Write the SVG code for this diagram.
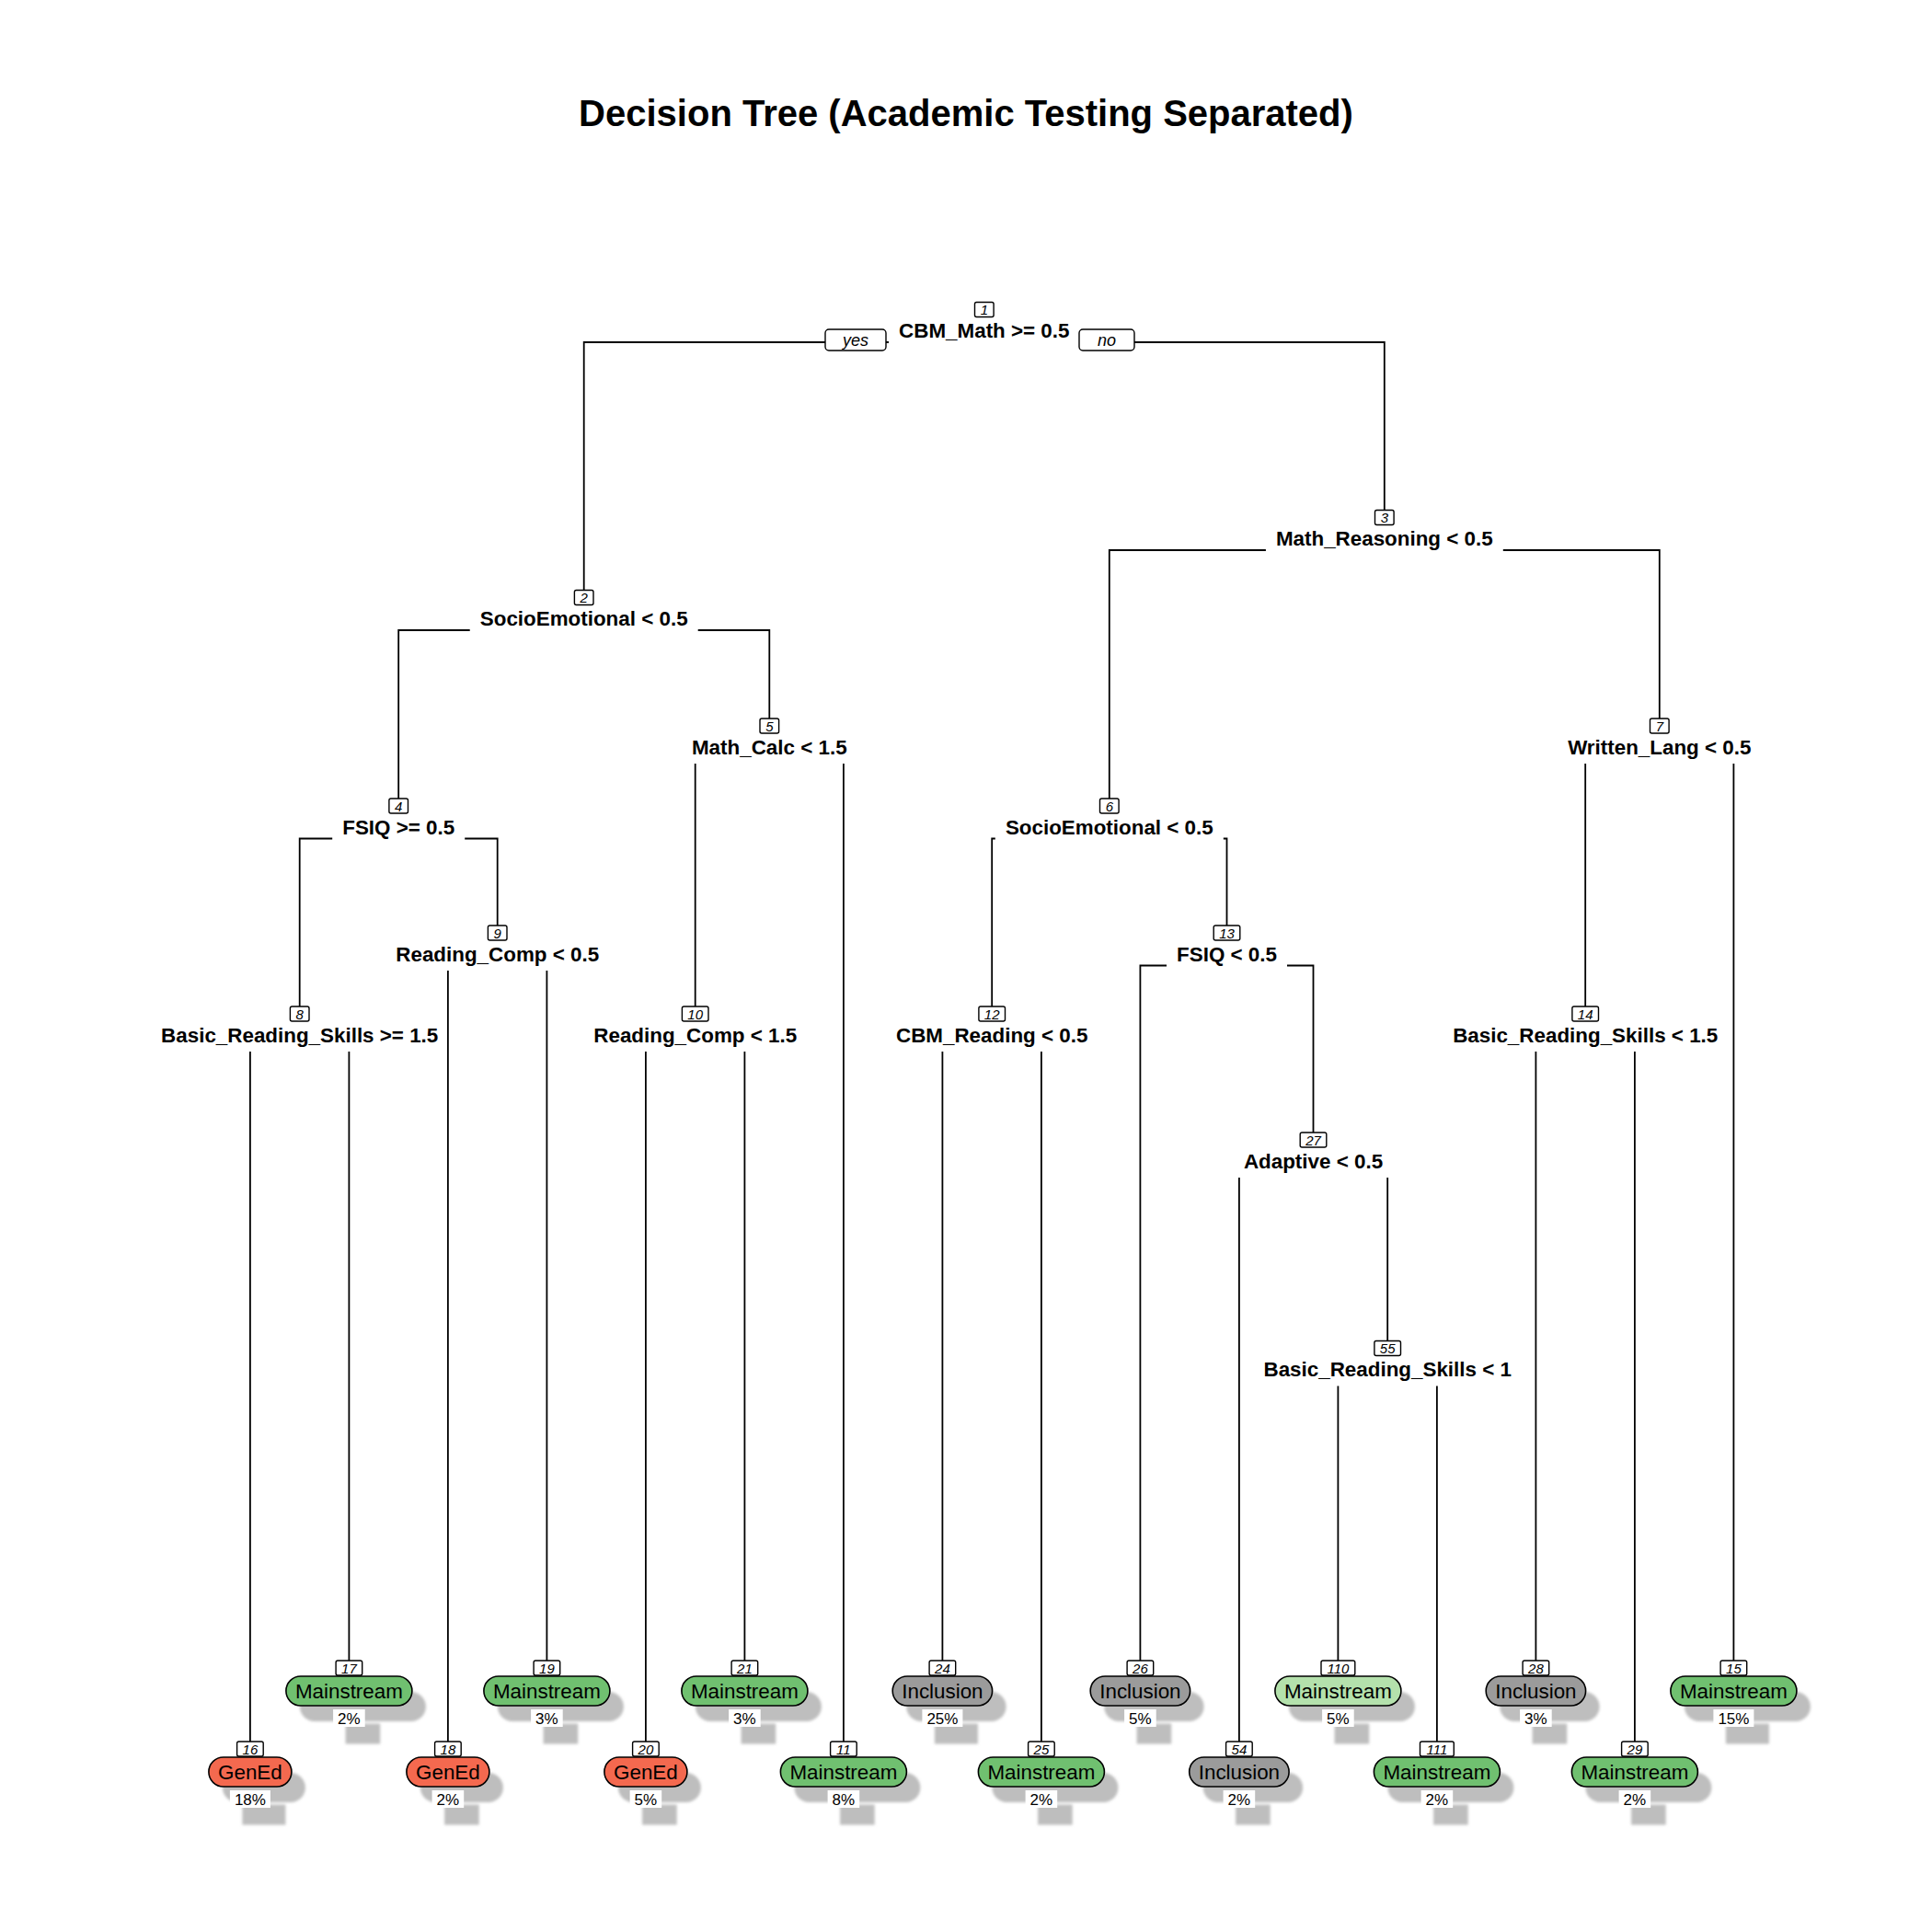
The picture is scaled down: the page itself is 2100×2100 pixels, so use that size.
<svg xmlns="http://www.w3.org/2000/svg" width="2100" height="2100" viewBox="0 0 2100 2100">
  <style>
    text { font-family: "Liberation Sans", Arial, Helvetica, sans-serif; }
    .title { font-size: 40px; font-weight: bold; text-anchor: middle; }
    .split { font-size: 22.4px; font-weight: bold; text-anchor: middle; }
    .num { font-size: 15px; font-style: italic; text-anchor: middle; }
    .yn { font-size: 18px; font-style: italic; text-anchor: middle; }
    .cls { font-size: 22.4px; text-anchor: middle; }
    .pct { font-size: 17px; text-anchor: middle; }
    .bg { fill: #ffffff; stroke: none; }
    .nbox { fill: #ffffff; stroke: #000000; stroke-width: 1.4; }
    .edge { fill: none; stroke: #000000; stroke-width: 1.8; }
    .gened { fill: #F4694F; stroke: #000000; stroke-width: 1.6; }
    .main { fill: #70C070; stroke: #000000; stroke-width: 1.6; }
    .mainlt { fill: #B4E1AC; stroke: #000000; stroke-width: 1.6; }
    .incl { fill: #9B9B9B; stroke: #000000; stroke-width: 1.6; }
    .shadow rect { fill: #BEBEBE; }
  </style>
  <defs>
    <filter id="soft" x="-10%" y="-10%" width="120%" height="120%">
      <feGaussianBlur stdDeviation="1.8"/>
    </filter>
  </defs>

  <rect x="0" y="0" width="2100" height="2100" fill="#ffffff"/>

  <text class="title" x="1050" y="137">Decision Tree (Academic Testing Separated)</text>

  <!-- leaf shadows: the leaf box and its percentage label, offset down-right -->
  <g class="shadow" filter="url(#soft)" transform="translate(15,17)">
    <rect x="226.9" y="1910" width="90" height="32" rx="16"/><rect x="248.4" y="1944.5" width="47" height="22"/>
    <rect x="310.9" y="1822" width="137" height="32" rx="16"/><rect x="360.6" y="1856.5" width="37.6" height="22"/>
    <rect x="441.9" y="1910" width="90" height="32" rx="16"/><rect x="468.1" y="1944.5" width="37.6" height="22"/>
    <rect x="525.9" y="1822" width="137" height="32" rx="16"/><rect x="575.6" y="1856.5" width="37.6" height="22"/>
    <rect x="656.9" y="1910" width="90" height="32" rx="16"/><rect x="683.1" y="1944.5" width="37.6" height="22"/>
    <rect x="740.9" y="1822" width="137" height="32" rx="16"/><rect x="790.6" y="1856.5" width="37.6" height="22"/>
    <rect x="848.4" y="1910" width="137" height="32" rx="16"/><rect x="898.1" y="1944.5" width="37.6" height="22"/>
    <rect x="970.2" y="1822" width="108.4" height="32" rx="16"/><rect x="1000.9" y="1856.5" width="47" height="22"/>
    <rect x="1063.4" y="1910" width="137" height="32" rx="16"/><rect x="1113.1" y="1944.5" width="37.6" height="22"/>
    <rect x="1185.2" y="1822" width="108.4" height="32" rx="16"/><rect x="1220.6" y="1856.5" width="37.6" height="22"/>
    <rect x="1292.7" y="1910" width="108.4" height="32" rx="16"/><rect x="1328.1" y="1944.5" width="37.6" height="22"/>
    <rect x="1385.9" y="1822" width="137" height="32" rx="16"/><rect x="1435.6" y="1856.5" width="37.6" height="22"/>
    <rect x="1493.4" y="1910" width="137" height="32" rx="16"/><rect x="1543.1" y="1944.5" width="37.6" height="22"/>
    <rect x="1615.2" y="1822" width="108.4" height="32" rx="16"/><rect x="1650.6" y="1856.5" width="37.6" height="22"/>
    <rect x="1708.4" y="1910" width="137" height="32" rx="16"/><rect x="1758.1" y="1944.5" width="37.6" height="22"/>
    <rect x="1815.9" y="1822" width="137" height="32" rx="16"/><rect x="1860.9" y="1856.5" width="47" height="22"/>
  </g>

  <!-- branches -->
  <g id="connectors" class="edge">
    <path d="M1069.8,372 H634.7 V641.5"/>
    <path d="M1069.8,372 H1504.8 V554.5"/>
    <path d="M634.7,685 H433.2 V868"/>
    <path d="M634.7,685 H836.3 V781"/>
    <path d="M1504.8,598 H1205.8 V868"/>
    <path d="M1504.8,598 H1803.8 V781"/>
    <path d="M433.2,911.5 H325.7 V1094"/>
    <path d="M433.2,911.5 H540.7 V1006"/>
    <path d="M836.3,824.5 H755.7 V1094"/>
    <path d="M836.3,824.5 H916.9 V1893"/>
    <path d="M1205.8,911.5 H1078.2 V1094"/>
    <path d="M1205.8,911.5 H1333.5 V1006"/>
    <path d="M1803.8,824.5 H1723.2 V1094"/>
    <path d="M1803.8,824.5 H1884.4 V1805"/>
    <path d="M325.7,1137.5 H271.9 V1893"/>
    <path d="M325.7,1137.5 H379.4 V1805"/>
    <path d="M540.7,1049.5 H486.9 V1893"/>
    <path d="M540.7,1049.5 H594.4 V1805"/>
    <path d="M755.7,1137.5 H701.9 V1893"/>
    <path d="M755.7,1137.5 H809.4 V1805"/>
    <path d="M1078.2,1137.5 H1024.4 V1805"/>
    <path d="M1078.2,1137.5 H1131.9 V1893"/>
    <path d="M1333.5,1049.5 H1239.4 V1805"/>
    <path d="M1333.5,1049.5 H1427.5 V1231"/>
    <path d="M1723.2,1137.5 H1669.4 V1805"/>
    <path d="M1723.2,1137.5 H1776.9 V1893"/>
    <path d="M1427.5,1274.5 H1346.9 V1893"/>
    <path d="M1427.5,1274.5 H1508.2 V1457.5"/>
    <path d="M1508.2,1501 H1454.4 V1805"/>
    <path d="M1508.2,1501 H1561.9 V1893"/>
  </g>

  <!-- split nodes -->
  <g id="node1">
    <rect class="bg" x="966" y="346.5" width="207.5" height="31"/>
    <rect class="nbox" x="1059.5" y="328.5" width="20.6" height="16" rx="2"/>
    <text class="num" x="1069.8" y="342">1</text>
    <text class="split" x="1069.8" y="367">CBM_Math &gt;= 0.5</text>
    <rect class="nbox" x="897" y="358" width="66" height="23" rx="4"/>
    <text class="yn" x="930" y="375.5">yes</text>
    <rect class="nbox" x="1173" y="358" width="60" height="23" rx="4"/>
    <text class="yn" x="1203" y="375.5">no</text>
  </g>
  <g id="node2">
    <rect class="bg" x="510.7" y="659.5" width="248" height="31"/>
    <rect class="nbox" x="624.4" y="641.5" width="20.6" height="16" rx="2"/>
    <text class="num" x="634.7" y="655">2</text>
    <text class="split" x="634.7" y="680">SocioEmotional &lt; 0.5</text>
  </g>
  <g id="node3">
    <rect class="bg" x="1375.9" y="572.5" width="257.9" height="31"/>
    <rect class="nbox" x="1494.5" y="554.5" width="20.6" height="16" rx="2"/>
    <text class="num" x="1504.8" y="568">3</text>
    <text class="split" x="1504.8" y="593">Math_Reasoning &lt; 0.5</text>
  </g>
  <g id="node4">
    <rect class="bg" x="361.2" y="886" width="144" height="31"/>
    <rect class="nbox" x="422.9" y="868" width="20.6" height="16" rx="2"/>
    <text class="num" x="433.2" y="881.5">4</text>
    <text class="split" x="433.2" y="906.5">FSIQ &gt;= 0.5</text>
  </g>
  <g id="node5">
    <rect class="bg" x="741" y="799" width="190.7" height="31"/>
    <rect class="nbox" x="826" y="781" width="20.6" height="16" rx="2"/>
    <text class="num" x="836.3" y="794.5">5</text>
    <text class="split" x="836.3" y="819.5">Math_Calc &lt; 1.5</text>
  </g>
  <g id="node6">
    <rect class="bg" x="1081.8" y="886" width="248" height="31"/>
    <rect class="nbox" x="1195.5" y="868" width="20.6" height="16" rx="2"/>
    <text class="num" x="1205.8" y="881.5">6</text>
    <text class="split" x="1205.8" y="906.5">SocioEmotional &lt; 0.5</text>
  </g>
  <g id="node7">
    <rect class="bg" x="1692.9" y="799" width="221.8" height="31"/>
    <rect class="nbox" x="1793.5" y="781" width="20.6" height="16" rx="2"/>
    <text class="num" x="1803.8" y="794.5">7</text>
    <text class="split" x="1803.8" y="819.5">Written_Lang &lt; 0.5</text>
  </g>
  <g id="node8">
    <rect class="bg" x="170" y="1112" width="311" height="31"/>
    <rect class="nbox" x="315.4" y="1094" width="20.6" height="16" rx="2"/>
    <text class="num" x="325.7" y="1107.5">8</text>
    <text class="split" x="325.7" y="1132.5">Basic_Reading_Skills &gt;= 1.5</text>
  </g>
  <g id="node9">
    <rect class="bg" x="419.2" y="1024" width="243" height="31"/>
    <rect class="nbox" x="530.4" y="1006" width="20.6" height="16" rx="2"/>
    <text class="num" x="540.7" y="1019.5">9</text>
    <text class="split" x="540.7" y="1044.5">Reading_Comp &lt; 0.5</text>
  </g>
  <g id="node10">
    <rect class="bg" x="634.2" y="1112" width="243" height="31"/>
    <rect class="nbox" x="741.4" y="1094" width="28.6" height="16" rx="2"/>
    <text class="num" x="755.7" y="1107.5">10</text>
    <text class="split" x="755.7" y="1132.5">Reading_Comp &lt; 1.5</text>
  </g>
  <g id="node12">
    <rect class="bg" x="962.9" y="1112" width="230.5" height="31"/>
    <rect class="nbox" x="1063.9" y="1094" width="28.6" height="16" rx="2"/>
    <text class="num" x="1078.2" y="1107.5">12</text>
    <text class="split" x="1078.2" y="1132.5">CBM_Reading &lt; 0.5</text>
  </g>
  <g id="node13">
    <rect class="bg" x="1268" y="1024" width="131" height="31"/>
    <rect class="nbox" x="1319.2" y="1006" width="28.6" height="16" rx="2"/>
    <text class="num" x="1333.5" y="1019.5">13</text>
    <text class="split" x="1333.5" y="1044.5">FSIQ &lt; 0.5</text>
  </g>
  <g id="node14">
    <rect class="bg" x="1568.1" y="1112" width="310.2" height="31"/>
    <rect class="nbox" x="1708.9" y="1094" width="28.6" height="16" rx="2"/>
    <text class="num" x="1723.2" y="1107.5">14</text>
    <text class="split" x="1723.2" y="1132.5">Basic_Reading_Skills &lt; 1.5</text>
  </g>
  <g id="node27">
    <rect class="bg" x="1340.9" y="1249" width="173.3" height="31"/>
    <rect class="nbox" x="1413.2" y="1231" width="28.6" height="16" rx="2"/>
    <text class="num" x="1427.5" y="1244.5">27</text>
    <text class="split" x="1427.5" y="1269.5">Adaptive &lt; 0.5</text>
  </g>
  <g id="node55">
    <rect class="bg" x="1362.4" y="1475.5" width="291.6" height="31"/>
    <rect class="nbox" x="1493.9" y="1457.5" width="28.6" height="16" rx="2"/>
    <text class="num" x="1508.2" y="1471">55</text>
    <text class="split" x="1508.2" y="1496">Basic_Reading_Skills &lt; 1</text>
  </g>

  <!-- leaves -->
  <g id="node16">
    <rect class="nbox" x="257.6" y="1893" width="28.6" height="16" rx="2"/>
    <text class="num" x="271.9" y="1906.5">16</text>
    <rect class="gened" x="226.9" y="1910" width="90" height="32" rx="16"/>
    <text class="cls" x="271.9" y="1934">GenEd</text>
    <rect class="bg" x="249.9" y="1946" width="44" height="19"/>
    <text class="pct" x="271.9" y="1961.5">18%</text>
  </g>
  <g id="node17">
    <rect class="nbox" x="365.1" y="1805" width="28.6" height="16" rx="2"/>
    <text class="num" x="379.4" y="1818.5">17</text>
    <rect class="main" x="310.9" y="1822" width="137" height="32" rx="16"/>
    <text class="cls" x="379.4" y="1846">Mainstream</text>
    <rect class="bg" x="362.1" y="1858" width="34.6" height="19"/>
    <text class="pct" x="379.4" y="1873.5">2%</text>
  </g>
  <g id="node18">
    <rect class="nbox" x="472.6" y="1893" width="28.6" height="16" rx="2"/>
    <text class="num" x="486.9" y="1906.5">18</text>
    <rect class="gened" x="441.9" y="1910" width="90" height="32" rx="16"/>
    <text class="cls" x="486.9" y="1934">GenEd</text>
    <rect class="bg" x="469.6" y="1946" width="34.6" height="19"/>
    <text class="pct" x="486.9" y="1961.5">2%</text>
  </g>
  <g id="node19">
    <rect class="nbox" x="580.1" y="1805" width="28.6" height="16" rx="2"/>
    <text class="num" x="594.4" y="1818.5">19</text>
    <rect class="main" x="525.9" y="1822" width="137" height="32" rx="16"/>
    <text class="cls" x="594.4" y="1846">Mainstream</text>
    <rect class="bg" x="577.1" y="1858" width="34.6" height="19"/>
    <text class="pct" x="594.4" y="1873.5">3%</text>
  </g>
  <g id="node20">
    <rect class="nbox" x="687.6" y="1893" width="28.6" height="16" rx="2"/>
    <text class="num" x="701.9" y="1906.5">20</text>
    <rect class="gened" x="656.9" y="1910" width="90" height="32" rx="16"/>
    <text class="cls" x="701.9" y="1934">GenEd</text>
    <rect class="bg" x="684.6" y="1946" width="34.6" height="19"/>
    <text class="pct" x="701.9" y="1961.5">5%</text>
  </g>
  <g id="node21">
    <rect class="nbox" x="795.1" y="1805" width="28.6" height="16" rx="2"/>
    <text class="num" x="809.4" y="1818.5">21</text>
    <rect class="main" x="740.9" y="1822" width="137" height="32" rx="16"/>
    <text class="cls" x="809.4" y="1846">Mainstream</text>
    <rect class="bg" x="792.1" y="1858" width="34.6" height="19"/>
    <text class="pct" x="809.4" y="1873.5">3%</text>
  </g>
  <g id="node11">
    <rect class="nbox" x="902.6" y="1893" width="28.6" height="16" rx="2"/>
    <text class="num" x="916.9" y="1906.5">11</text>
    <rect class="main" x="848.4" y="1910" width="137" height="32" rx="16"/>
    <text class="cls" x="916.9" y="1934">Mainstream</text>
    <rect class="bg" x="899.6" y="1946" width="34.6" height="19"/>
    <text class="pct" x="916.9" y="1961.5">8%</text>
  </g>
  <g id="node24">
    <rect class="nbox" x="1010.1" y="1805" width="28.6" height="16" rx="2"/>
    <text class="num" x="1024.4" y="1818.5">24</text>
    <rect class="incl" x="970.2" y="1822" width="108.4" height="32" rx="16"/>
    <text class="cls" x="1024.4" y="1846">Inclusion</text>
    <rect class="bg" x="1002.4" y="1858" width="44" height="19"/>
    <text class="pct" x="1024.4" y="1873.5">25%</text>
  </g>
  <g id="node25">
    <rect class="nbox" x="1117.6" y="1893" width="28.6" height="16" rx="2"/>
    <text class="num" x="1131.9" y="1906.5">25</text>
    <rect class="main" x="1063.4" y="1910" width="137" height="32" rx="16"/>
    <text class="cls" x="1131.9" y="1934">Mainstream</text>
    <rect class="bg" x="1114.6" y="1946" width="34.6" height="19"/>
    <text class="pct" x="1131.9" y="1961.5">2%</text>
  </g>
  <g id="node26">
    <rect class="nbox" x="1225.1" y="1805" width="28.6" height="16" rx="2"/>
    <text class="num" x="1239.4" y="1818.5">26</text>
    <rect class="incl" x="1185.2" y="1822" width="108.4" height="32" rx="16"/>
    <text class="cls" x="1239.4" y="1846">Inclusion</text>
    <rect class="bg" x="1222.1" y="1858" width="34.6" height="19"/>
    <text class="pct" x="1239.4" y="1873.5">5%</text>
  </g>
  <g id="node54">
    <rect class="nbox" x="1332.6" y="1893" width="28.6" height="16" rx="2"/>
    <text class="num" x="1346.9" y="1906.5">54</text>
    <rect class="incl" x="1292.7" y="1910" width="108.4" height="32" rx="16"/>
    <text class="cls" x="1346.9" y="1934">Inclusion</text>
    <rect class="bg" x="1329.6" y="1946" width="34.6" height="19"/>
    <text class="pct" x="1346.9" y="1961.5">2%</text>
  </g>
  <g id="node110">
    <rect class="nbox" x="1436" y="1805" width="36.8" height="16" rx="2"/>
    <text class="num" x="1454.4" y="1818.5">110</text>
    <rect class="mainlt" x="1385.9" y="1822" width="137" height="32" rx="16"/>
    <text class="cls" x="1454.4" y="1846">Mainstream</text>
    <rect class="bg" x="1437.1" y="1858" width="34.6" height="19"/>
    <text class="pct" x="1454.4" y="1873.5">5%</text>
  </g>
  <g id="node111">
    <rect class="nbox" x="1543.5" y="1893" width="36.8" height="16" rx="2"/>
    <text class="num" x="1561.9" y="1906.5">111</text>
    <rect class="main" x="1493.4" y="1910" width="137" height="32" rx="16"/>
    <text class="cls" x="1561.9" y="1934">Mainstream</text>
    <rect class="bg" x="1544.6" y="1946" width="34.6" height="19"/>
    <text class="pct" x="1561.9" y="1961.5">2%</text>
  </g>
  <g id="node28">
    <rect class="nbox" x="1655.1" y="1805" width="28.6" height="16" rx="2"/>
    <text class="num" x="1669.4" y="1818.5">28</text>
    <rect class="incl" x="1615.2" y="1822" width="108.4" height="32" rx="16"/>
    <text class="cls" x="1669.4" y="1846">Inclusion</text>
    <rect class="bg" x="1652.1" y="1858" width="34.6" height="19"/>
    <text class="pct" x="1669.4" y="1873.5">3%</text>
  </g>
  <g id="node29">
    <rect class="nbox" x="1762.6" y="1893" width="28.6" height="16" rx="2"/>
    <text class="num" x="1776.9" y="1906.5">29</text>
    <rect class="main" x="1708.4" y="1910" width="137" height="32" rx="16"/>
    <text class="cls" x="1776.9" y="1934">Mainstream</text>
    <rect class="bg" x="1759.6" y="1946" width="34.6" height="19"/>
    <text class="pct" x="1776.9" y="1961.5">2%</text>
  </g>
  <g id="node15">
    <rect class="nbox" x="1870.1" y="1805" width="28.6" height="16" rx="2"/>
    <text class="num" x="1884.4" y="1818.5">15</text>
    <rect class="main" x="1815.9" y="1822" width="137" height="32" rx="16"/>
    <text class="cls" x="1884.4" y="1846">Mainstream</text>
    <rect class="bg" x="1862.4" y="1858" width="44" height="19"/>
    <text class="pct" x="1884.4" y="1873.5">15%</text>
  </g>
</svg>
